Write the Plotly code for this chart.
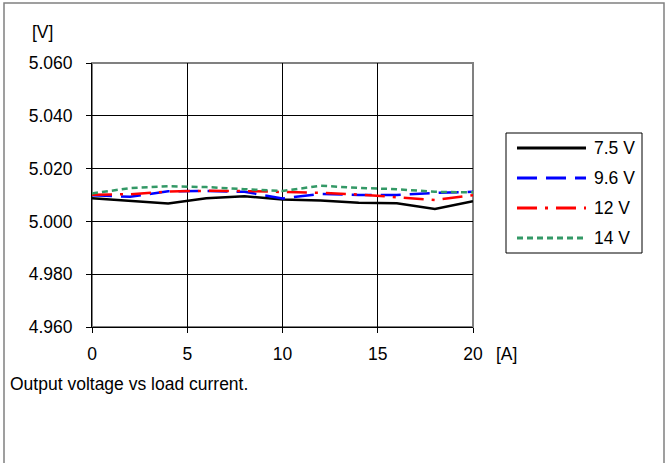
import plotly.graph_objects as go

# Data (load current in A, output voltage in V)
current = [0, 2, 4, 6, 8, 10, 12, 14, 16, 18, 20]
v_7_5 = [5.0088, 5.0078, 5.0068, 5.0088, 5.0095, 5.0083, 5.0079, 5.0071, 5.0069, 5.0047, 5.0076]
v_9_6 = [5.0099, 5.0093, 5.0114, 5.0115, 5.0112, 5.0087, 5.0104, 5.0100, 5.0100, 5.0108, 5.0112]
v_12 = [5.0101, 5.0103, 5.0113, 5.0116, 5.0115, 5.0112, 5.0108, 5.0102, 5.0092, 5.0081, 5.0099]
v_14 = [5.0106, 5.0126, 5.0133, 5.0130, 5.0122, 5.0115, 5.0135, 5.0127, 5.0122, 5.0112, 5.0110]
series_names = ["7.5 V", "9.6 V", "12 V", "14 V"]
x_ticks = [0, 5, 10, 15, 20]
y_ticks = [4.960, 4.980, 5.000, 5.020, 5.040, 5.060]

styles = [
    dict(color="#000000", dash="solid"),
    dict(color="#0000FF", dash="20px,9px"),
    dict(color="#FF0000", dash="20px,8px,3px,8px"),
    dict(color="#339966", dash="6px,4px"),
]

FONT = "Arial, Liberation Sans, sans-serif"
FS = 17.5
W, H = 670, 463
L, R, T, B = 92, 473, 63, 327
pw, ph = R - L, B - T


def px(xp):
    return (xp - L) / pw


def py(yp):
    return (B - yp) / ph


fig = go.Figure()
for name, ys, st in zip(series_names, [v_7_5, v_9_6, v_12, v_14], styles):
    fig.add_trace(go.Scatter(x=current, y=ys, mode="lines", name=name,
                             line=dict(color=st["color"], dash=st["dash"], width=2.5),
                             showlegend=False, hoverinfo="skip"))

shapes = []
# outer chart border
shapes.append(dict(type="rect", xref="paper", yref="paper",
                   x0=px(4), x1=px(664), y0=py(475), y1=py(3),
                   line=dict(color="#808080", width=1.5), layer="below"))
# plot area border (gray top/right)
shapes.append(dict(type="rect", xref="paper", yref="paper",
                   x0=0, x1=1, y0=0, y1=1,
                   line=dict(color="#808080", width=2), layer="below"))
# legend box
shapes.append(dict(type="rect", xref="paper", yref="paper",
                   x0=px(506), x1=px(642), y0=py(253), y1=py(133),
                   line=dict(color="#000000", width=1), fillcolor="white"))
annotations = []
rows = [148, 178, 208, 238]
for name, st, ry in zip(series_names, styles, rows):
    shapes.append(dict(type="line", xref="paper", yref="paper",
                       x0=px(517), x1=px(586), y0=py(ry), y1=py(ry),
                       line=dict(color=st["color"], dash=st["dash"], width=3)))
    annotations.append(dict(text=name, xref="paper", yref="paper",
                            x=px(592), y=py(ry), xanchor="left", yanchor="middle",
                            showarrow=False, font=dict(size=FS, color="black", family=FONT)))

annotations.append(dict(text="[V]", xref="paper", yref="paper", x=px(43), y=py(32),
                        xanchor="center", yanchor="middle", showarrow=False,
                        font=dict(size=FS, color="black", family=FONT)))
annotations.append(dict(text="[A]", xref="paper", yref="paper", x=px(506), y=py(354),
                        xanchor="center", yanchor="middle", showarrow=False,
                        font=dict(size=FS, color="black", family=FONT)))
annotations.append(dict(text="Output voltage vs load current.", xref="paper", yref="paper",
                        x=px(8), y=py(384), xanchor="left", yanchor="middle", showarrow=False,
                        font=dict(size=FS, color="black", family=FONT)))

fig.update_layout(
    width=W, height=H,
    margin=dict(l=L, r=W - R, t=T, b=H - B, pad=0),
    paper_bgcolor="white", plot_bgcolor="white",
    font=dict(family=FONT, size=FS, color="black"),
    shapes=shapes, annotations=annotations,
    showlegend=False,
)
fig.update_xaxes(range=[0, 20], tickvals=x_ticks, ticktext=[str(v) for v in x_ticks],
                 showgrid=True, gridcolor="black", gridwidth=1,
                 showline=True, linecolor="black", linewidth=1,
                 ticks="outside", ticklen=5, tickcolor="black", zeroline=False,
                 ticklabelstandoff=6,
                 tickfont=dict(size=FS, family=FONT))
fig.update_yaxes(range=[4.96, 5.06], tickvals=y_ticks, ticktext=[f"{v:.3f}" for v in y_ticks],
                 showgrid=True, gridcolor="black", gridwidth=1,
                 showline=True, linecolor="black", linewidth=1,
                 ticks="outside", ticklen=5, tickcolor="black", zeroline=False,
                 ticklabelstandoff=10,
                 tickfont=dict(size=FS, family=FONT))

fig.write_html("out.html", config={"displayModeBar": False},
               post_script="document.body.style.margin='0';document.body.style.overflow='hidden';")
